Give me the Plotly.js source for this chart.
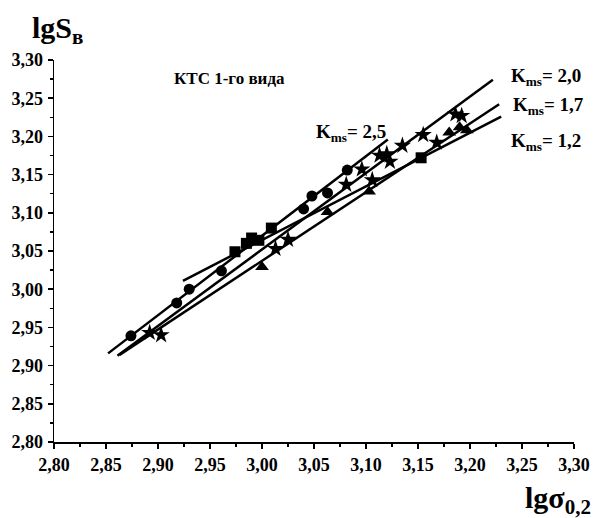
<!DOCTYPE html>
<html>
<head>
<meta charset="utf-8">
<script src="https://cdn.plot.ly/plotly-3.0.1.min.js"></script>
<style>html,body{margin:0;padding:0;background:#fff;}#chart{width:596px;height:518px;}</style>
</head>
<body>
<div id="chart"></div>
<script>
// Data
const circleX = [2.874, 2.918, 2.930, 2.961, 3.040, 3.048, 3.063, 3.082];
const circleY = [2.939, 2.982, 3.000, 3.024, 3.105, 3.122, 3.126, 3.156];

const starX = [2.892, 2.903, 3.013, 3.025, 3.081, 3.096, 3.106, 3.113, 3.120, 3.123, 3.135, 3.155, 3.168, 3.186, 3.192];
const starY = [2.943, 2.940, 3.053, 3.065, 3.137, 3.157, 3.143, 3.175, 3.177, 3.167, 3.188, 3.202, 3.192, 3.229, 3.227];

const triX = [3.000, 3.063, 3.103, 3.180, 3.190, 3.197];
const triY = [3.029, 3.101, 3.128, 3.205, 3.212, 3.208];

const squareX = [2.974, 2.985, 2.990, 2.997, 3.009, 3.153];
const squareY = [3.049, 3.060, 3.067, 3.064, 3.080, 3.172];

// Fitted lines (endpoints)
const line25X = [2.852, 3.121]; const line25Y = [2.916, 3.196];
const line20X = [2.861, 3.222]; const line20Y = [2.913, 3.274];
const line17X = [2.863, 3.228]; const line17Y = [2.914, 3.242];
const line12X = [2.924, 3.230]; const line12Y = [3.011, 3.226];

const tickVals = [2.80, 2.85, 2.90, 2.95, 3.00, 3.05, 3.10, 3.15, 3.20, 3.25, 3.30];
const tickText = ['2,80', '2,85', '2,90', '2,95', '3,00', '3,05', '3,10', '3,15', '3,20', '3,25', '3,30'];

const FONT = '"Liberation Serif", "Times New Roman", serif';
const lineStyle = {color: '#000', width: 2.5};

const traces = [
  {x: line25X, y: line25Y, mode: 'lines', line: lineStyle, hoverinfo: 'skip'},
  {x: line20X, y: line20Y, mode: 'lines', line: lineStyle, hoverinfo: 'skip'},
  {x: line17X, y: line17Y, mode: 'lines', line: lineStyle, hoverinfo: 'skip'},
  {x: line12X, y: line12Y, mode: 'lines', line: lineStyle, hoverinfo: 'skip'},
  {x: circleX, y: circleY, mode: 'markers', marker: {symbol: 'circle', size: 11, color: '#000'}},
  {x: squareX, y: squareY, mode: 'markers', marker: {symbol: 'square', size: 11, color: '#000'}},
  {x: triX, y: triY, mode: 'markers', marker: {symbol: 'triangle-up', size: 12, color: '#000'}},
  {x: starX, y: starY, mode: 'markers', marker: {symbol: 'star', size: 13, color: '#000'}}
];

function axis() {
  return {
    range: [2.80, 3.30],
    tickmode: 'array',
    tickvals: tickVals,
    ticktext: tickText.map(t => '<b>' + t + '</b>'),
    showline: true, linecolor: '#000', linewidth: 1.5,
    ticks: 'outside', ticklen: 5, tickwidth: 1.5, tickcolor: '#000',
    minor: {dtick: 0.025, ticks: 'outside', ticklen: 3, tickwidth: 1.5, tickcolor: '#000', showgrid: false},
    showgrid: false, zeroline: false, mirror: false,
    tickfont: {family: FONT, size: 18, color: '#000', weight: 700},
    ticklabelstandoff: 1,
    fixedrange: true
  };
}

const L = 54, T = 60, W = 520, H = 382;
function px(x) { return (x - L) / W; }
function py(y) { return (T + H - y) / H; }

function ann(text, x, y, size, xanchor) {
  return {text: text, xref: 'paper', yref: 'paper', x: px(x), y: py(y),
    xanchor: xanchor || 'left', yanchor: 'middle', showarrow: false,
    font: {family: FONT, size: size, color: '#000'}};
}

const layout = {
  width: 596, height: 518,
  margin: {l: L, r: 596 - L - W, t: T, b: 518 - T - H},
  paper_bgcolor: '#fff', plot_bgcolor: '#fff',
  separators: ', ',
  showlegend: false,
  xaxis: axis(),
  yaxis: axis(),
  annotations: [
    ann('<b>lgS<sub>в</sub></b>', 30, 30, 30),
    ann('<b>КТС 1-го вида</b>', 172, 79, 17),
    ann('<b>K<sub>ms</sub>= 2,5</b>', 314, 133, 19),
    ann('<b>K<sub>ms</sub>= 2,0</b>', 509, 77, 19),
    ann('<b>K<sub>ms</sub>= 1,7</b>', 511, 106, 19),
    ann('<b>K<sub>ms</sub>= 1,2</b>', 509, 142, 19),
    ann('<b>lgσ<sub>0,2</sub></b>', 593, 500, 30, 'right')
  ]
};

Plotly.newPlot('chart', traces, layout, {staticPlot: true});
</script>
</body>
</html>
